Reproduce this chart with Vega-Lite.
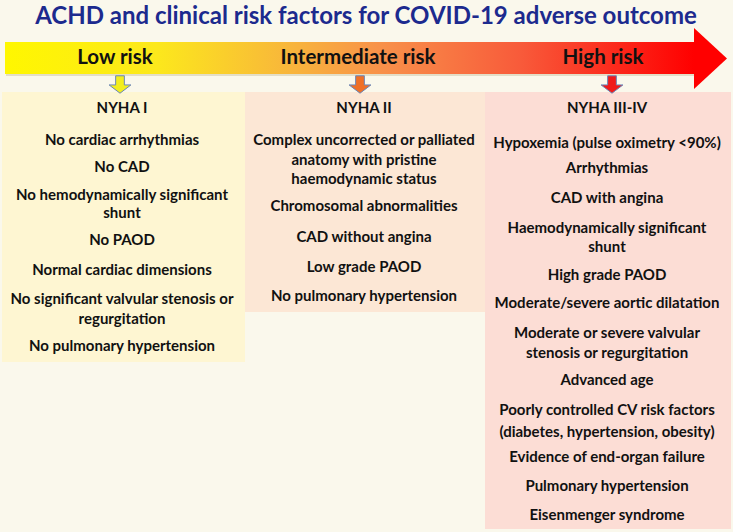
{
  "$schema": "https://vega.github.io/schema/vega-lite/v6.json",
  "width": 733,
  "height": 532,
  "padding": 0,
  "autosize": {"type": "fit", "contains": "padding"},
  "background": "#FAF8EC",
  "config": {"view": {"stroke": null}, "text": {"font": "Lato"}},
  "datasets": {
    "panels": [
      {"risk": "Low", "x": 2, "x2": 245, "y": 92, "y2": 362},
      {"risk": "Intermediate", "x": 245, "x2": 485, "y": 92, "y2": 312},
      {"risk": "High", "x": 485, "x2": 731, "y": 92, "y2": 529}
    ],
    "band": [{"x": 5, "x2": 694, "y": 42, "y2": 74}],
    "shadow": [{"x": 6, "x2": 694, "y": 74, "y2": 76}],
    "head": [
      {"x": 694, "y": 28, "y2": 89},
      {"x": 727, "y": 58.5, "y2": 58.5}
    ],
    "riskLabels": [
      {"label": "Low risk", "x": 115, "y": 58},
      {"label": "Intermediate risk", "x": 358, "y": 58},
      {"label": "High risk", "x": 603, "y": 58}
    ],
    "pointers": [
      {"risk": "Low", "x": 120, "y": 84.5},
      {"risk": "Intermediate", "x": 360, "y": 84.5},
      {"risk": "High", "x": 612, "y": 84.5}
    ],
    "title": [{"t": "ACHD and clinical risk factors for COVID-19 adverse outcome", "x": 366, "y": 17}],
    "lines": [
      {"t": "NYHA I", "x": 122, "y": 108},
      {"t": "No cardiac arrhythmias", "x": 122, "y": 140},
      {"t": "No CAD", "x": 122, "y": 167},
      {"t": "No hemodynamically significant", "x": 122, "y": 195},
      {"t": "shunt", "x": 122, "y": 213},
      {"t": "No PAOD", "x": 122, "y": 240},
      {"t": "Normal cardiac dimensions", "x": 122, "y": 270},
      {"t": "No significant valvular stenosis or", "x": 122, "y": 299},
      {"t": "regurgitation", "x": 122, "y": 319},
      {"t": "No pulmonary hypertension", "x": 122, "y": 346},
      {"t": "NYHA II", "x": 364, "y": 108},
      {"t": "Complex uncorrected or palliated", "x": 364, "y": 140},
      {"t": "anatomy with pristine", "x": 364, "y": 160},
      {"t": "haemodynamic status", "x": 364, "y": 179},
      {"t": "Chromosomal abnormalities", "x": 364, "y": 206},
      {"t": "CAD without angina", "x": 364, "y": 237},
      {"t": "Low grade PAOD", "x": 364, "y": 267},
      {"t": "No pulmonary hypertension", "x": 364, "y": 296},
      {"t": "NYHA III-IV", "x": 607, "y": 108},
      {"t": "Hypoxemia (pulse oximetry <90%)", "x": 607, "y": 143},
      {"t": "Arrhythmias", "x": 607, "y": 168},
      {"t": "CAD with angina", "x": 607, "y": 198},
      {"t": "Haemodynamically significant", "x": 607, "y": 228},
      {"t": "shunt", "x": 607, "y": 247},
      {"t": "High grade PAOD", "x": 607, "y": 275},
      {"t": "Moderate/severe aortic dilatation", "x": 607, "y": 303},
      {"t": "Moderate or severe valvular", "x": 607, "y": 333},
      {"t": "stenosis or regurgitation", "x": 607, "y": 353},
      {"t": "Advanced age", "x": 607, "y": 380},
      {"t": "Poorly controlled CV risk factors", "x": 607, "y": 410},
      {"t": "(diabetes, hypertension, obesity)", "x": 607, "y": 432},
      {"t": "Evidence of end-organ failure", "x": 607, "y": 457},
      {"t": "Pulmonary hypertension", "x": 607, "y": 486},
      {"t": "Eisenmenger syndrome", "x": 607, "y": 515}
    ]
  },
  "layer": [
    {
      "data": {"name": "panels"},
      "mark": {"type": "rect"},
      "encoding": {
        "x": {"field": "x", "type": "quantitative", "scale": {"domain": [0, 733], "nice": false, "zero": false}, "axis": null},
        "x2": {"field": "x2"},
        "y": {"field": "y", "type": "quantitative", "scale": {"domain": [0, 532], "nice": false, "zero": false, "reverse": true}, "axis": null},
        "y2": {"field": "y2"},
        "color": {"field": "risk", "type": "nominal", "scale": {"domain": ["Low", "Intermediate", "High"], "range": ["#FEF6D2", "#FCE7D5", "#FCDDD5"]}, "legend": null}
      }
    },
    {
      "data": {"name": "shadow"},
      "mark": {"type": "rect", "color": "#D9D3B8", "opacity": 0.7},
      "encoding": {
        "x": {"field": "x", "type": "quantitative"},
        "x2": {"field": "x2"},
        "y": {"field": "y", "type": "quantitative"},
        "y2": {"field": "y2"}
      }
    },
    {
      "data": {"name": "band"},
      "mark": {
        "type": "rect",
        "color": {
          "gradient": "linear", "x1": 0, "x2": 1, "y1": 0, "y2": 0,
          "stops": [
            {"offset": 0, "color": "#FFF700"},
            {"offset": 0.22, "color": "#FCE81C"},
            {"offset": 0.42, "color": "#F8B43C"},
            {"offset": 0.55, "color": "#F8904A"},
            {"offset": 0.75, "color": "#F85A3A"},
            {"offset": 0.9, "color": "#FC2418"},
            {"offset": 1, "color": "#FF0000"}
          ]
        }
      },
      "encoding": {
        "x": {"field": "x", "type": "quantitative"},
        "x2": {"field": "x2"},
        "y": {"field": "y", "type": "quantitative"},
        "y2": {"field": "y2"}
      }
    },
    {
      "data": {"name": "head"},
      "mark": {"type": "area", "color": "#FF0000", "orient": "vertical"},
      "encoding": {
        "x": {"field": "x", "type": "quantitative"},
        "y": {"field": "y", "type": "quantitative"},
        "y2": {"field": "y2"}
      }
    },
    {
      "data": {"name": "pointers"},
      "mark": {
        "type": "point",
        "filled": true,
        "shape": "M-0.2,-0.4 L0.2,-0.4 L0.2,0.02 L0.5,0.02 L0,0.4 L-0.5,0.02 L-0.2,0.02 Z",
        "size": 1900,
        "stroke": "#6A86B8",
        "strokeWidth": 1,
        "opacity": 1
      },
      "encoding": {
        "x": {"field": "x", "type": "quantitative"},
        "y": {"field": "y", "type": "quantitative"},
        "fill": {"field": "risk", "type": "nominal", "scale": {"domain": ["Low", "Intermediate", "High"], "range": ["#F2EE1E", "#F07026", "#F01A1A"]}, "legend": null}
      }
    },
    {
      "data": {"name": "title"},
      "mark": {"type": "text", "fontSize": 24, "fontWeight": "bold", "color": "#1C2A8E", "baseline": "middle", "align": "center"},
      "encoding": {
        "x": {"field": "x", "type": "quantitative"},
        "y": {"field": "y", "type": "quantitative"},
        "text": {"field": "t"}
      }
    },
    {
      "data": {"name": "riskLabels"},
      "mark": {"type": "text", "fontSize": 20.5, "fontWeight": "bold", "color": "#111111", "baseline": "middle", "align": "center"},
      "encoding": {
        "x": {"field": "x", "type": "quantitative"},
        "y": {"field": "y", "type": "quantitative"},
        "text": {"field": "label"}
      }
    },
    {
      "data": {"name": "lines"},
      "mark": {"type": "text", "fontSize": 15, "fontWeight": "bold", "color": "#111111", "baseline": "middle", "align": "center"},
      "encoding": {
        "x": {"field": "x", "type": "quantitative"},
        "y": {"field": "y", "type": "quantitative"},
        "text": {"field": "t"}
      }
    }
  ]
}
